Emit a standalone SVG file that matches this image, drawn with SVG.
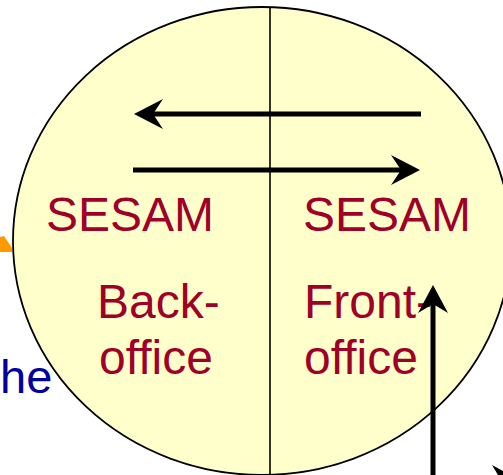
<svg xmlns="http://www.w3.org/2000/svg" width="503" height="475" viewBox="0 0 503 475">
<style>
.lbl{font-family:"Liberation Sans",Arial,sans-serif;font-size:48px;fill:#A00028}
.ln{stroke:#000;stroke-width:5;fill:none}
.hd{fill:#000}
</style>
<rect width="503" height="475" fill="#fff"/>
<g id="orange-fragment"><polygon points="0,237 4,236 12,248 12,252 0,252" fill="#FF9900"/></g>
<g id="circle"><ellipse cx="262" cy="241" rx="249" ry="234" fill="#FFFFCC" stroke="#000" stroke-width="1.8"/>
<line x1="270" y1="7" x2="270" y2="475" stroke="#000" stroke-width="1.6"/></g>
<g id="back-office"><text class="lbl" x="46" y="231">SESAM</text><text class="lbl" x="97" y="318">Back-</text><text class="lbl" x="99" y="374">office</text></g>
<g id="front-office"><text class="lbl" x="303" y="231">SESAM</text><text class="lbl" x="304" y="318">Front-</text><text class="lbl" x="304" y="374">office</text></g>
<g id="fragment-text"><text x="0" y="393" style="font-family:'Liberation Sans',Arial,sans-serif;font-size:47px;fill:#0000A0">he</text></g>
<g id="connectors">
<line class="ln" x1="421" y1="114" x2="150" y2="114"/><polygon class="hd" points="134,114 163,99 153,114 163,129"/>
<line class="ln" x1="133" y1="170" x2="404" y2="170"/><polygon class="hd" points="420,170 391,155 401,170 391,185"/>
<line class="ln" x1="433" y1="475" x2="433" y2="300"/><polygon class="hd" points="433,285 418,313 433,304 448,313"/>
<polygon class="hd" points="492,465 503,471 503,475 498,475"/>
</g>
</svg>
